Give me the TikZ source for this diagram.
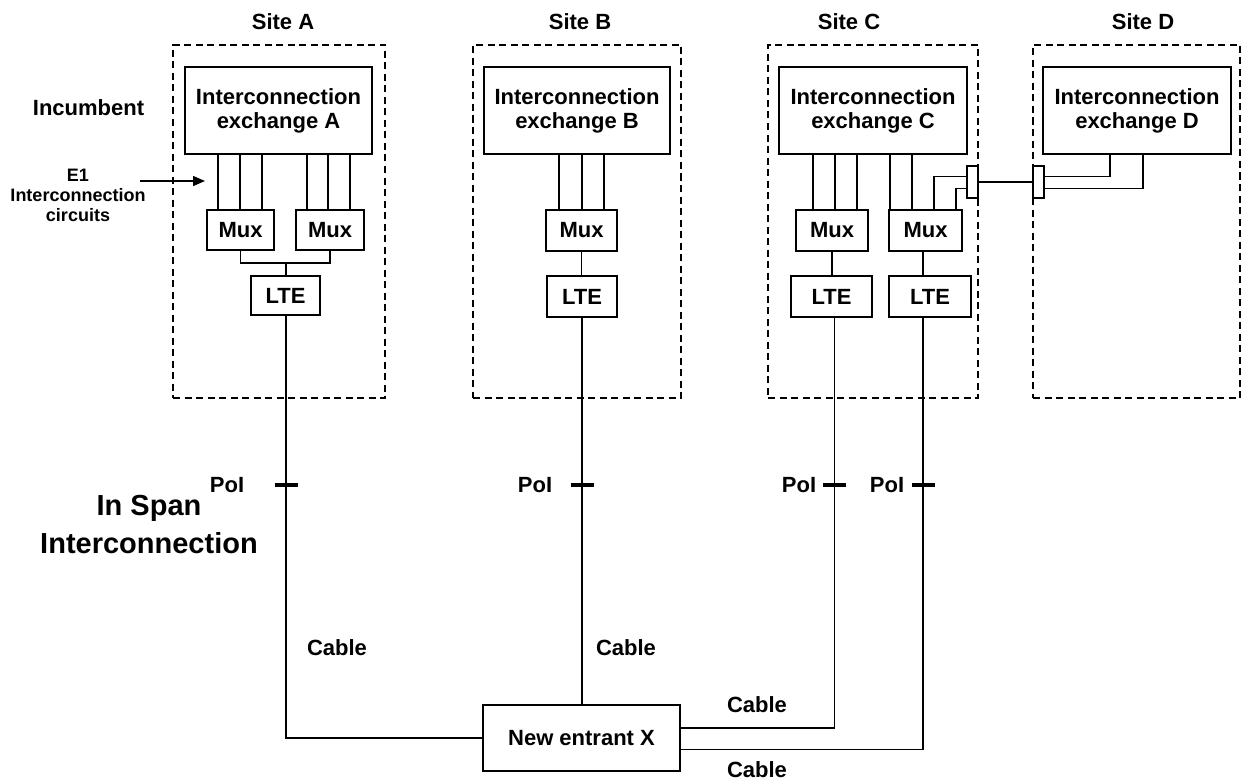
\documentclass[tikz,border=0pt]{standalone}
\usepackage{fontspec}
\setmainfont{Liberation Sans}
\usetikzlibrary{arrows.meta,calc}
\begin{document}
\begin{tikzpicture}[x=1pt,y=-1pt,
  every node/.style={font=\bfseries\fontsize{22}{24}\selectfont},
  site/.style={draw, line width=2.6pt, dash pattern=on 7pt off 4.5pt, inner sep=0pt},
  unit/.style={draw, line width=1.4pt, inner sep=0pt, align=center},
  wire/.style={line width=1.4pt},
  e1/.style={line width=2pt},
  poi/.style={line width=4.5pt},
  small/.style={font=\bfseries\fontsize{18}{20}\selectfont, align=center},
  big/.style={font=\bfseries\fontsize{29}{34}\selectfont, anchor=base}]

\useasboundingbox (0,0) rectangle (1242,781);

% ---------- site boundaries ----------
\node[site, minimum width=212pt, minimum height=353pt] (siteA) at (279,221.5) {};
\node[site, minimum width=208pt, minimum height=353pt] (siteB) at (577,221.5) {};
\node[site, minimum width=210pt, minimum height=353pt] (siteC) at (873,221.5) {};
\node[site, minimum width=207pt, minimum height=353pt] (siteD) at (1136.5,221.5) {};

\node (labA) at (283,22) {Site A};
\node (labB) at (580,22) {Site B};
\node (labC) at (849,22) {Site C};
\node (labD) at (1143,22) {Site D};

% ---------- exchanges ----------
\node[unit, minimum width=187pt, minimum height=87pt] (exA) at (278.5,110.5) {Interconnection\\exchange A};
\node[unit, minimum width=186pt, minimum height=87pt] (exB) at (577,110.5) {Interconnection\\exchange B};
\node[unit, minimum width=188pt, minimum height=87pt] (exC) at (873,110.5) {Interconnection\\exchange C};
\node[unit, minimum width=188pt, minimum height=87pt] (exD) at (1137,110.5) {Interconnection\\exchange D};

% ---------- multiplexers ----------
\node[unit, minimum width=67pt, minimum height=40pt] (muxA1) at (240.5,230) {Mux};
\node[unit, minimum width=68pt, minimum height=40pt] (muxA2) at (330,230) {Mux};
\node[unit, minimum width=71pt, minimum height=41pt] (muxB) at (581.5,230.5) {Mux};
\node[unit, minimum width=72pt, minimum height=41pt] (muxC1) at (832,230.5) {Mux};
\node[unit, minimum width=73pt, minimum height=41pt] (muxC2) at (925.5,230.5) {Mux};

% ---------- line terminating equipment ----------
\node[unit, minimum width=69pt, minimum height=39pt] (lteA) at (285.5,295.5) {LTE};
\node[unit, minimum width=70pt, minimum height=41pt] (lteB) at (582,296.5) {LTE};
\node[unit, minimum width=81pt, minimum height=41pt] (lteC1) at (831.5,296.5) {LTE};
\node[unit, minimum width=82pt, minimum height=41pt] (lteC2) at (930,296.5) {LTE};

% ---------- C/D cross-connect blocks ----------
\node[unit, minimum width=11pt, minimum height=32pt] (conL) at (972.5,182) {};
\node[unit, minimum width=11pt, minimum height=32pt] (conR) at (1038.5,182) {};

% ---------- new entrant ----------
\node[unit, minimum width=197pt, minimum height=66pt] (nx) at (581.5,738) {New entrant X};

% ---------- E1 circuits ----------
\foreach \dx in {-22.5,-0.5,21.5}
  \draw[e1] ([xshift=\dx pt]muxA1.north) -- ([xshift=\dx pt]muxA1.north |- exA.south);
\foreach \dx in {-23,-2,20}
  \draw[e1] ([xshift=\dx pt]muxA2.north) -- ([xshift=\dx pt]muxA2.north |- exA.south);
\foreach \dx in {-22.5,0.5,22.5}
  \draw[e1] ([xshift=\dx pt]muxB.north) -- ([xshift=\dx pt]muxB.north |- exB.south);
\foreach \dx in {-19,3,25}
  \draw[e1] ([xshift=\dx pt]muxC1.north) -- ([xshift=\dx pt]muxC1.north |- exC.south);
\foreach \dx in {-35.5,-13.5}
  \draw[wire] ([xshift=\dx pt]muxC2.north) -- ([xshift=\dx pt]muxC2.north |- exC.south);
\draw[wire] ([xshift=8.5pt]muxC2.north) |- ($(conL.north west)!0.34!(conL.south west)$);
\draw[wire] ([xshift=30.5pt]muxC2.north) |- ($(conL.north west)!0.69!(conL.south west)$);
\draw[wire] ([xshift=-27pt]exD.south) |- ($(conR.north east)!0.34!(conR.south east)$);
\draw[wire] ([xshift=6pt]exD.south) |- ($(conR.north east)!0.69!(conR.south east)$);
\draw[wire] (conL.east) -- (conR.west);

% ---------- mux to LTE ----------
\coordinate (jA) at (286,263);
\draw[wire] (muxA1.south) |- (jA) -| (muxA2.south);
\draw[wire] (jA) -- (lteA.north -| jA);
\draw[wire] (muxB.south) -- (lteB.north -| muxB.south);
\draw[wire] (muxC1.south) -- (lteC1.north -| muxC1.south);
\draw[wire] ([xshift=-2.5pt]muxC2.south) -- ([xshift=-2.5pt]muxC2.south |- lteC2.north);

% ---------- cables to the new entrant ----------
\draw[wire] (lteA.south -| jA) |- (nx.west);
\draw[wire] (lteB.south) -- (nx.north -| lteB.south);
\draw[wire] ([xshift=3pt]lteC1.south) |- ($(nx.north east)!0.35!(nx.south east)$);
\draw[wire] ([xshift=-7pt]lteC2.south) |- ($(nx.north east)!0.67!(nx.south east)$);

% ---------- points of interconnection ----------
\coordinate (pA) at (286,485);
\coordinate (pB) at (582,485);
\coordinate (pC1) at (834.5,485);
\coordinate (pC2) at (923,485);
\foreach \p in {pA,pB,pC1,pC2}
  \draw[poi] ([xshift=-11.5pt]\p) -- ([xshift=11.5pt]\p);
\node (poiA) at (227,485) {PoI};
\node (poiB) at (535,485) {PoI};
\node (poiC1) at (799,485) {PoI};
\node (poiC2) at (887,485) {PoI};

% ---------- labels ----------
\node (inc) at (88.5,108) {Incumbent};
\node[small] (e1lab) at (78,195) {E1\\Interconnection\\circuits};
\coordinate (e1tail) at (140,181);
\coordinate (e1tip) at (205,181);
\draw[line width=1.4pt, -{Triangle[length=12pt,width=10pt]}] (e1tail) -- (e1tip);

\node[big] (span1) at (149,515) {In Span};
\node[big] (span2) at (149,553) {Interconnection};

\node (cabA) at (337,648) {Cable};
\node (cabB) at (626,648) {Cable};
\node (cabC1) at (757,705) {Cable};
\node (cabC2) at (757,770) {Cable};
\end{tikzpicture}
\end{document}
